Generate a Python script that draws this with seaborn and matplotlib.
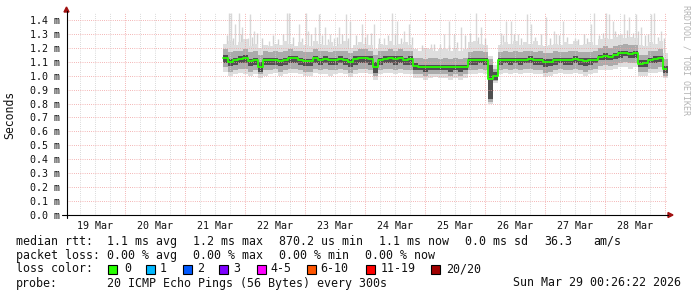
import numpy as np
import pandas as pd
import matplotlib
matplotlib.use("Agg")
import matplotlib.pyplot as plt
import seaborn as sns
from matplotlib.lines import Line2D
from matplotlib.patches import Polygon, Rectangle

# ---------------- data (x in days since 19 Mar 00:00, y in ms) ----------------
start_day = 2.625          # first sample: 21 Mar 15:00
step_day = 1 / 12          # 2-hour bins

median = [1.13, 1.095, 1.115, 1.12, 1.13, 1.105, 1.115, 1.065, 1.11, 1.115, 1.11,
          1.105, 1.115, 1.125, 1.125, 1.115, 1.105, 1.105, 1.125, 1.115, 1.12, 1.11,
          1.115, 1.12, 1.115, 1.095, 1.12, 1.125, 1.125, 1.12, 1.06, 1.115, 1.12,
          1.125, 1.12, 1.125, 1.115, 1.12, 1.07, 1.065, 1.06, 1.065, 1.065, 1.065,
          1.065, 1.06, 1.065, 1.06, 1.065, 1.11, 1.11, 1.115, 1.11, 0.975, 1.0,
          1.11, 1.115, 1.11, 1.115, 1.11, 1.115, 1.12, 1.11, 1.115, 1.095, 1.1,
          1.115, 1.115, 1.11, 1.115, 1.12, 1.11, 1.105, 1.11, 1.115, 1.135, 1.14,
          1.135, 1.145, 1.16, 1.165, 1.155, 1.16, 1.085, 1.09, 1.115, 1.12, 1.125,
          1.05]

lo_light = [1.03, 1.00, 1.01, 1.02, 1.01, 1.00, 1.01, 0.98, 1.00, 1.01, 1.02,
            1.00, 1.01, 1.02, 1.02, 1.01, 1.00, 1.00, 1.02, 1.01, 1.01, 1.00,
            1.01, 1.02, 1.01, 0.99, 1.01, 1.02, 1.02, 1.01, 0.97, 1.01, 1.02,
            1.02, 1.01, 1.02, 1.01, 1.01, 0.98, 0.98, 0.97, 0.98, 0.99, 0.98,
            0.98, 0.97, 0.98, 0.97, 0.98, 1.01, 1.01, 1.02, 1.01, 0.80, 0.95,
            1.01, 1.02, 1.01, 1.02, 1.01, 1.02, 1.02, 1.01, 1.01, 0.99, 1.00,
            1.01, 1.02, 1.01, 1.01, 1.02, 1.01, 1.00, 1.01, 1.02, 1.04, 1.04,
            1.04, 1.05, 1.06, 1.06, 1.05, 1.06, 1.00, 1.00, 1.02, 1.02, 1.03,
            0.98]

lo_mid = [1.06, 1.03, 1.04, 1.05, 1.05, 1.03, 1.04, 1.01, 1.04, 1.04, 1.05,
          1.03, 1.04, 1.05, 1.05, 1.04, 1.03, 1.03, 1.05, 1.04, 1.05, 1.04,
          1.04, 1.05, 1.04, 1.02, 1.04, 1.05, 1.05, 1.04, 1.00, 1.04, 1.05,
          1.05, 1.04, 1.05, 1.04, 1.04, 1.01, 1.01, 1.00, 1.01, 1.01, 1.01,
          1.01, 1.00, 1.01, 1.00, 1.01, 1.04, 1.04, 1.05, 1.04, 0.81, 0.96,
          1.04, 1.05, 1.04, 1.05, 1.04, 1.05, 1.05, 1.04, 1.04, 1.02, 1.03,
          1.04, 1.05, 1.04, 1.04, 1.05, 1.04, 1.03, 1.04, 1.05, 1.07, 1.08,
          1.07, 1.08, 1.09, 1.10, 1.09, 1.09, 1.03, 1.03, 1.05, 1.05, 1.06,
          1.00]

lo_dark = [1.09, 1.07, 1.08, 1.09, 1.09, 1.07, 1.08, 1.03, 1.08, 1.08, 1.08,
           1.07, 1.08, 1.09, 1.09, 1.08, 1.07, 1.07, 1.09, 1.08, 1.09, 1.08,
           1.08, 1.09, 1.08, 1.06, 1.08, 1.09, 1.09, 1.08, 1.02, 1.08, 1.09,
           1.09, 1.08, 1.09, 1.08, 1.08, 1.04, 1.04, 1.03, 1.04, 1.04, 1.04,
           1.04, 1.03, 1.04, 1.03, 1.04, 1.08, 1.08, 1.09, 1.08, 0.83, 0.97,
           1.08, 1.09, 1.08, 1.09, 1.08, 1.09, 1.09, 1.08, 1.08, 1.06, 1.07,
           1.08, 1.09, 1.08, 1.08, 1.09, 1.08, 1.07, 1.08, 1.09, 1.11, 1.11,
           1.11, 1.12, 1.13, 1.14, 1.13, 1.13, 1.06, 1.06, 1.09, 1.09, 1.10,
           1.02]

hi_dark = [1.15, 1.12, 1.13, 1.14, 1.15, 1.12, 1.13, 1.10, 1.13, 1.13, 1.13,
           1.12, 1.13, 1.14, 1.14, 1.13, 1.12, 1.12, 1.14, 1.13, 1.14, 1.13,
           1.13, 1.14, 1.13, 1.12, 1.14, 1.14, 1.14, 1.14, 1.10, 1.13, 1.14,
           1.14, 1.14, 1.14, 1.13, 1.14, 1.09, 1.08, 1.08, 1.08, 1.08, 1.08,
           1.08, 1.08, 1.08, 1.08, 1.08, 1.13, 1.13, 1.13, 1.13, 1.08, 1.03,
           1.13, 1.13, 1.13, 1.13, 1.13, 1.13, 1.14, 1.13, 1.13, 1.12, 1.12,
           1.13, 1.13, 1.13, 1.13, 1.14, 1.13, 1.13, 1.13, 1.13, 1.15, 1.16,
           1.15, 1.16, 1.18, 1.18, 1.17, 1.18, 1.11, 1.11, 1.13, 1.14, 1.14,
           1.07]

hi_mid = [1.19, 1.17, 1.18, 1.18, 1.19, 1.17, 1.18, 1.15, 1.18, 1.17, 1.18,
          1.17, 1.18, 1.19, 1.18, 1.18, 1.17, 1.17, 1.19, 1.18, 1.18, 1.17,
          1.18, 1.18, 1.18, 1.16, 1.18, 1.19, 1.19, 1.18, 1.15, 1.18, 1.18,
          1.19, 1.18, 1.19, 1.18, 1.18, 1.13, 1.13, 1.12, 1.13, 1.13, 1.12,
          1.13, 1.12, 1.13, 1.12, 1.13, 1.17, 1.18, 1.18, 1.17, 1.12, 1.05,
          1.17, 1.18, 1.17, 1.18, 1.17, 1.18, 1.18, 1.17, 1.18, 1.16, 1.16,
          1.18, 1.17, 1.17, 1.18, 1.18, 1.17, 1.17, 1.17, 1.18, 1.20, 1.21,
          1.20, 1.21, 1.22, 1.23, 1.22, 1.22, 1.15, 1.15, 1.18, 1.18, 1.19,
          1.12]

hi_light = [1.23, 1.25, 1.22, 1.24, 1.26, 1.21, 1.23, 1.20, 1.22, 1.21, 1.23,
            1.22, 1.25, 1.23, 1.21, 1.24, 1.22, 1.21, 1.25, 1.23, 1.22, 1.24,
            1.21, 1.23, 1.25, 1.20, 1.22, 1.24, 1.23, 1.22, 1.19, 1.23, 1.22,
            1.25, 1.22, 1.23, 1.24, 1.22, 1.19, 1.18, 1.20, 1.19, 1.18, 1.19,
            1.19, 1.18, 1.20, 1.18, 1.19, 1.24, 1.25, 1.23, 1.22, 1.14, 1.08,
            1.22, 1.24, 1.23, 1.25, 1.22, 1.24, 1.23, 1.25, 1.22, 1.21, 1.22,
            1.23, 1.22, 1.24, 1.23, 1.25, 1.22, 1.23, 1.24, 1.22, 1.26, 1.27,
            1.26, 1.28, 1.29, 1.27, 1.28, 1.27, 1.22, 1.21, 1.24, 1.23, 1.25,
            1.16]

# tall outlier pings (light grey spikes)
spike_day = [2.718, 2.763, 2.818, 2.885, 2.951, 3.040, 3.080, 3.146, 3.385, 3.690,
             3.730, 3.885, 4.006, 4.040, 4.163, 4.218, 4.330, 4.413,
             4.473, 4.556, 4.668, 4.751, 4.946, 5.030, 5.140, 5.306, 5.446, 5.530,
             5.640, 5.723, 5.863, 6.085, 6.251,
             6.313, 6.396, 6.480, 6.590, 6.840, 6.923, 7.256, 7.340, 7.423, 7.535,
             7.701, 7.756, 8.006, 8.146,
             8.180, 8.290, 8.485, 8.763, 8.818, 9.013, 9.068, 9.123, 9.206, 9.318,
             9.401, 9.513, 9.596, 9.763, 9.818, 9.930]
spike_top = [1.45, 1.45, 1.37, 1.45, 1.35, 1.27, 1.44, 1.32, 1.25, 1.45,
             1.45, 1.37, 1.45, 1.32, 1.35, 1.44, 1.35, 1.30,
             1.27, 1.35, 1.44, 1.39, 1.37, 1.30, 1.37, 1.27, 1.45, 1.39,
             1.32, 1.37, 1.18, 1.23, 1.23,
             1.30, 1.39, 1.30, 1.35, 1.45, 1.35, 1.31, 1.39, 1.39, 1.30,
             1.44, 1.37, 1.42, 1.32,
             1.30, 1.39, 1.27, 1.37, 1.45, 1.45, 1.44, 1.39, 1.30, 1.44,
             1.42, 1.44, 1.35, 1.44, 1.45, 1.32]

# shorter outlier pings
short_day = [2.70, 2.79, 2.93, 3.01, 3.11, 3.20, 3.28, 3.46, 3.55, 3.62,
             3.80, 3.95, 4.10, 4.27, 4.38, 4.52, 4.61, 4.71, 4.85, 5.00,
             5.09, 5.22, 5.38, 5.50, 5.60, 5.77, 5.95, 6.15, 6.40, 6.52,
             6.66, 6.74, 6.88, 7.00, 7.30, 7.48, 7.60, 7.82, 7.92, 8.08,
             8.23, 8.36, 8.55, 8.64, 8.70, 8.90, 8.96, 9.16, 9.26, 9.36,
             9.46, 9.55, 9.66, 9.71, 9.88, 9.97]
short_top = [1.29, 1.27, 1.30, 1.26, 1.28, 1.31, 1.27, 1.29, 1.26, 1.30,
             1.28, 1.27, 1.30, 1.29, 1.26, 1.28, 1.30, 1.27, 1.29, 1.28,
             1.31, 1.27, 1.29, 1.30, 1.27, 1.28, 1.22, 1.23, 1.22, 1.24,
             1.29, 1.31, 1.28, 1.27, 1.29, 1.30, 1.27, 1.28, 1.30, 1.27,
             1.29, 1.28, 1.26, 1.30, 1.27, 1.29, 1.31, 1.32, 1.30, 1.33,
             1.31, 1.32, 1.29, 1.30, 1.28, 1.27]

day_labels = ["19 Mar", "20 Mar", "21 Mar", "22 Mar", "23 Mar",
              "24 Mar", "25 Mar", "26 Mar", "27 Mar", "28 Mar"]
y_ticks = [0.0, 0.1, 0.2, 0.3, 0.4, 0.5, 0.6, 0.7, 0.8, 0.9, 1.0, 1.1, 1.2, 1.3, 1.4]

loss_labels = ["0", "1", "2", "3", "4-5", "6-10", "11-19", "20/20"]
loss_colors = ["#26ff00", "#00b8ff", "#0059ff", "#7e00ff",
               "#ff00ff", "#ff5500", "#ff0000", "#a00000"]

rtt_row = ["median rtt:", "1.1 ms avg", "1.2 ms max", "870.2 us min",
           "1.1 ms now", "0.0 ms sd", "36.3", "am/s"]
loss_row = ["packet loss:", "0.00 % avg", "0.00 % max", "0.00 % min", "0.00 % now"]
probe_text = "20 ICMP Echo Pings (56 Bytes) every 300s"
stamp_text = "Sun Mar 29 00:26:22 2026"

# ---------------- figure ----------------
sns.set_style("white")
plt.rcParams["font.family"] = ["DejaVu Sans Mono", "DejaVu Sans"]

W, H = 697, 297
fig = plt.figure(figsize=(W / 100, H / 100), dpi=100)
fig.patch.set_facecolor("white")
ax = fig.add_axes([66.5 / W, (H - 215) / H, 600 / W, 202 / H])
ax.set_facecolor("white")


def fx(px):
    return px / W


def fy(py):
    return 1 - py / H


n = len(median)
edges = start_day + step_day * np.arange(n + 1)


def ext(a):
    return np.append(np.asarray(a, float), a[-1])


# smoke
ax.vlines(spike_day, 1.1, spike_top, color="#d8d8d8", lw=1.0, zorder=1)
ax.vlines(short_day, 1.1, short_top, color="#d0d0d0", lw=1.0, zorder=1.05)
ax.fill_between(edges, ext(lo_light), ext(hi_light), step="post",
                color="#dedede", lw=0, zorder=1.2)
ax.fill_between(edges, ext(lo_mid), ext(hi_mid), step="post",
                color="#ababab", lw=0, zorder=1.3)
ax.fill_between(edges, ext(lo_dark), ext(hi_dark), step="post",
                color="#505050", lw=0, zorder=1.4)

# median line
df = pd.DataFrame({"day": edges, "rtt": ext(median)})
sns.lineplot(data=df, x="day", y="rtt", estimator=None, drawstyle="steps-post",
             color="#26ff00", lw=1.3, ax=ax, zorder=3)

ax.set_xlim(0.018, 10.018)
ax.set_ylim(0, 1.45)
ax.set_xlabel("")
ax.set_ylabel("")

# x ticks: red major at midnight, grey minor every 6 h, labels at noon
ax.set_xticks(list(range(1, 11)))
ax.set_xticklabels([""] * 10)
minor_pos, minor_lab = [], []
for k in range(10):
    for q in (0.25, 0.5, 0.75):
        minor_pos.append(k + q)
        minor_lab.append(day_labels[k] if q == 0.5 else "")
ax.set_xticks(minor_pos, minor=True)
ax.set_xticklabels(minor_lab, minor=True)

ax.set_yticks(y_ticks)
ax.set_yticklabels([f"{v:.1f} m" for v in y_ticks])

dots = (0, (0.72, 1.44))
ax.set_axisbelow(False)
ax.grid(True, which="major", axis="x", color="#f0a0a0", ls=dots, lw=0.72)
ax.grid(True, which="minor", axis="x", color="#cfcfcf", ls=dots, lw=0.72)
ax.grid(True, which="major", axis="y", color="#f0a0a0", ls=dots, lw=0.72)

ax.tick_params(axis="x", which="major", length=2.5, width=0.72, color="black",
               direction="out", pad=1)
ax.tick_params(axis="x", which="minor", length=0, pad=4, labelsize=7.2,
               labelcolor="#111111")
ax.tick_params(axis="y", which="major", length=0, pad=4.7, labelsize=7.2,
               labelcolor="#111111")
for s in ax.spines.values():
    s.set_visible(False)

# axis lines with arrows
fig.add_artist(Line2D([fx(66.5), fx(66.5)], [fy(218), fy(11)], color="black", lw=0.8))
fig.add_artist(Line2D([fx(62), fx(668)], [fy(215), fy(215)], color="black", lw=0.8))
fig.add_artist(Polygon([[fx(64), fy(12)], [fx(69), fy(12)], [fx(66.5), fy(7)]],
                       closed=True, color="#a01010", transform=fig.transFigure))
fig.add_artist(Polygon([[fx(668), fy(212.5)], [fx(668), fy(217.5)], [fx(673), fy(215)]],
                       closed=True, color="#a01010", transform=fig.transFigure))

# axis title and watermark
fig.text(fx(10), fy(115), "Seconds", rotation=90, ha="center", va="center",
         fontsize=8.3, color="#111111")
fig.text(fx(686), fy(60), "RRDTOOL / TOBI OETIKER", rotation=270, ha="center",
         va="center", fontsize=6, color="#b4b4b4")

# legend block
fs = 8.37
rtt_x = [16, 107, 193, 279, 379, 465, 544, 593]
for t, x in zip(rtt_row, rtt_x):
    fig.text(fx(x), fy(241.5), t, ha="left", va="center", fontsize=fs, color="#111111")
loss_x = [16, 107, 193, 279, 365]
for t, x in zip(loss_row, loss_x):
    fig.text(fx(x), fy(255.3), t, ha="left", va="center", fontsize=fs, color="#111111")
fig.text(fx(16), fy(269), "loss color:", ha="left", va="center", fontsize=fs, color="#111111")
box_x = [108, 146, 183, 219, 257, 307, 366, 431]
lab_x = [124, 160, 197, 233, 270, 320, 381, 446]
for c, lab, bx, lx in zip(loss_colors, loss_labels, box_x, lab_x):
    fig.add_artist(Rectangle((fx(bx), fy(274)), 9 / W, 9.5 / H, facecolor=c,
                             edgecolor="black", lw=0.8, transform=fig.transFigure))
    fig.text(fx(lx), fy(269), lab, ha="left", va="center", fontsize=fs, color="#111111")
fig.text(fx(16), fy(283), "probe:", ha="left", va="center", fontsize=fs, color="#111111")
fig.text(fx(107), fy(283), probe_text, ha="left", va="center", fontsize=fs, color="#111111")
fig.text(fx(513), fy(283), stamp_text, ha="left", va="center", fontsize=fs, color="#111111")

fig.savefig("out.png", dpi=100, facecolor="white")
